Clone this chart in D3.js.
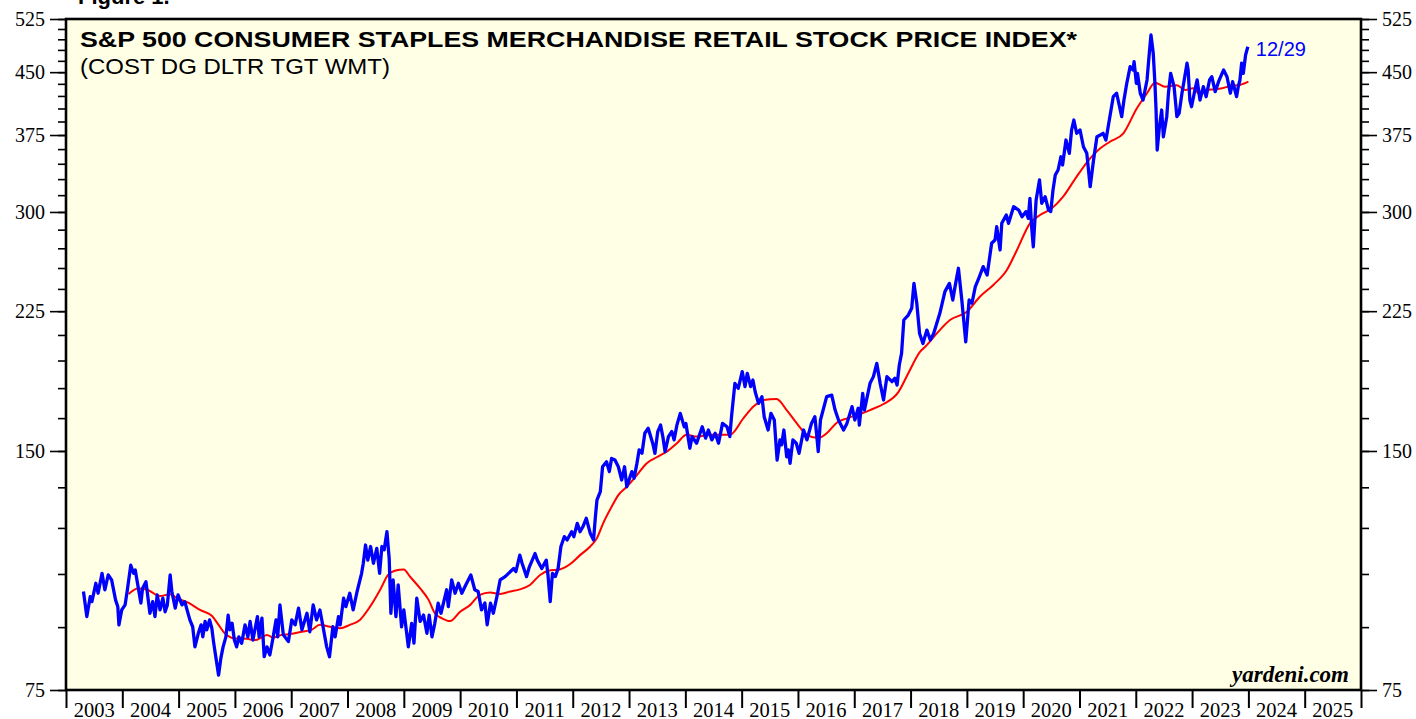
<!DOCTYPE html>
<html><head><meta charset="utf-8">
<script src="https://cdn.jsdelivr.net/npm/d3@7/dist/d3.min.js"></script>
<style>body{margin:0;background:#fff}svg{display:block}</style>
</head><body>
<svg id="chart" width="1416" height="719"></svg>
<script>
// ---- DATA (decimal year, index value) ----
const indexYears = [
2003.31,2003.37,2003.43,2003.46,2003.53,2003.57,2003.64,2003.69,2003.75,2003.81,
2003.88,2003.92,2003.94,2003.99,2004.05,2004.09,2004.15,2004.20,2004.23,2004.27,
2004.33,2004.36,2004.42,2004.49,2004.54,2004.58,2004.62,2004.67,2004.72,2004.76,
2004.80,2004.85,2004.88,2004.94,2004.99,2005.06,2005.11,2005.15,2005.20,2005.25,
2005.29,2005.35,2005.40,2005.43,2005.47,2005.50,2005.55,2005.59,2005.62,2005.66,
2005.71,2005.75,2005.79,2005.84,2005.88,2005.91,2005.95,2005.99,2006.03,2006.07,
2006.12,2006.18,2006.23,2006.27,2006.32,2006.36,2006.40,2006.43,2006.48,2006.52,
2006.57,2006.62,2006.67,2006.73,2006.76,2006.80,2006.86,2006.95,2007.01,2007.07,
2007.13,2007.19,2007.28,2007.33,2007.39,2007.45,2007.51,2007.57,2007.63,2007.68,
2007.74,2007.78,2007.84,2007.87,2007.93,2007.97,2008.04,2008.10,2008.17,2008.25,
2008.28,2008.32,2008.36,2008.41,2008.46,2008.52,2008.57,2008.61,2008.65,2008.70,
2008.74,2008.77,2008.81,2008.86,2008.90,2008.96,2009.00,2009.08,2009.14,2009.18,
2009.23,2009.29,2009.35,2009.41,2009.45,2009.50,2009.55,2009.61,2009.66,2009.71,
2009.76,2009.79,2009.85,2009.91,2009.97,2010.03,2010.10,2010.19,2010.26,2010.32,
2010.38,2010.44,2010.48,2010.54,2010.59,2010.66,2010.71,2010.80,2010.86,2010.95,
2010.99,2011.06,2011.10,2011.18,2011.23,2011.33,2011.37,2011.45,2011.53,2011.56,
2011.60,2011.64,2011.69,2011.74,2011.79,2011.85,2011.90,2011.98,2012.02,2012.08,
2012.13,2012.18,2012.24,2012.31,2012.37,2012.40,2012.43,2012.49,2012.53,2012.60,
2012.65,2012.69,2012.75,2012.81,2012.87,2012.92,2012.96,2013.05,2013.09,2013.14,
2013.18,2013.23,2013.28,2013.34,2013.42,2013.46,2013.51,2013.56,2013.60,2013.64,
2013.70,2013.76,2013.80,2013.85,2013.91,2013.98,2014.01,2014.08,2014.12,2014.20,
2014.30,2014.36,2014.41,2014.47,2014.53,2014.59,2014.66,2014.74,2014.79,2014.82,
2014.88,2014.94,2015.01,2015.06,2015.10,2015.16,2015.20,2015.24,2015.30,2015.36,
2015.40,2015.47,2015.52,2015.58,2015.63,2015.68,2015.71,2015.75,2015.80,2015.83,
2015.86,2015.91,2015.97,2016.02,2016.10,2016.16,2016.24,2016.30,2016.33,2016.36,
2016.40,2016.51,2016.60,2016.66,2016.72,2016.81,2016.87,2016.96,2017.01,2017.07,
2017.09,2017.15,2017.18,2017.28,2017.34,2017.40,2017.46,2017.52,2017.58,2017.67,
2017.72,2017.76,2017.80,2017.84,2017.88,2017.96,2018.02,2018.06,2018.11,2018.16,
2018.22,2018.29,2018.35,2018.41,2018.52,2018.61,2018.69,2018.75,2018.79,2018.85,
2018.91,2018.98,2019.04,2019.09,2019.15,2019.20,2019.29,2019.36,2019.44,2019.50,
2019.53,2019.59,2019.62,2019.70,2019.74,2019.83,2019.92,2019.98,2020.05,2020.09,
2020.12,2020.15,2020.18,2020.23,2020.29,2020.33,2020.39,2020.45,2020.49,2020.53,
2020.57,2020.62,2020.67,2020.70,2020.76,2020.82,2020.86,2020.90,2020.95,2021.01,
2021.07,2021.13,2021.19,2021.25,2021.31,2021.37,2021.42,2021.47,2021.53,2021.60,
2021.66,2021.75,2021.79,2021.84,2021.90,2021.95,2021.97,2022.01,2022.03,2022.08,
2022.13,2022.20,2022.24,2022.27,2022.31,2022.34,2022.36,2022.38,2022.42,2022.46,
2022.49,2022.55,2022.58,2022.62,2022.68,2022.73,2022.77,2022.82,2022.86,2022.91,
2022.93,2022.96,2022.99,2023.05,2023.09,2023.14,2023.20,2023.25,2023.31,2023.35,
2023.41,2023.47,2023.56,2023.62,2023.68,2023.72,2023.76,2023.79,2023.82,2023.85,
2023.88,2023.91,2023.95,2023.99
];
const indexValues = [
99.8,92.8,98.3,96.9,102.2,99.3,105.2,100.3,104.7,103.2,
97.4,95.5,90.6,94.6,96.0,100.3,107.7,105.2,106.2,102.2,
96.5,100.7,102.7,93.7,96.9,92.8,98.8,94.6,97.9,94.1,
96.0,104.7,99.8,95.1,98.8,96.0,96.9,94.6,91.9,90.1,
85.0,88.4,90.6,87.5,91.5,89.3,91.9,89.7,86.3,82.6,
78.3,82.2,85.0,87.5,93.2,89.3,91.0,86.7,85.0,87.5,
85.9,90.6,87.5,91.5,86.7,89.7,92.8,87.5,92.4,82.6,
85.0,83.0,86.7,91.9,87.5,96.0,88.0,86.3,91.9,90.6,
95.1,89.3,93.7,88.8,96.0,91.9,94.6,89.7,85.0,82.6,
90.1,87.5,92.8,90.6,97.9,95.5,99.3,94.6,99.8,105.2,
108.3,114.2,109.3,113.7,108.3,113.1,105.2,113.7,112.6,118.7,
109.8,93.7,103.2,92.8,101.7,90.1,94.6,85.0,91.0,85.9,
97.9,91.5,93.2,88.4,93.2,87.5,91.0,96.5,93.7,96.9,
100.3,95.5,103.2,99.3,102.2,99.3,101.7,104.7,100.3,99.8,
94.6,96.5,90.6,96.5,93.7,98.8,103.2,104.2,105.2,106.7,
105.7,110.9,108.3,104.2,107.2,111.4,109.3,106.7,109.3,104.7,
96.9,105.2,104.2,106.7,113.7,117.0,115.9,118.7,117.0,121.6,
118.7,120.4,123.4,118.2,115.9,123.4,130.1,133.3,143.3,145.4,
141.3,146.8,146.1,143.3,137.9,143.3,135.2,141.3,138.6,144.7,
150.5,149.0,157.9,160.2,153.4,149.0,158.7,161.7,156.4,149.7,
156.4,158.7,154.9,161.7,167.3,160.9,162.5,151.2,156.4,153.4,
160.9,155.7,159.4,154.9,157.9,153.4,162.5,160.9,156.4,165.7,
182.5,179.9,188.8,180.8,187.9,180.8,184.3,178.1,172.2,175.6,
165.7,159.4,167.3,164.1,146.1,154.9,152.7,159.4,147.5,150.5,
144.7,154.9,153.4,149.0,159.4,154.9,162.5,165.7,157.9,149.7,
164.1,175.6,176.4,168.9,164.1,159.4,162.5,170.6,164.1,169.8,
161.7,177.3,168.9,182.5,186.1,193.4,182.5,173.9,186.1,183.4,
185.2,181.6,192.5,199.1,219.3,222.5,226.9,243.9,230.4,210.9,
204.9,213.0,206.9,210.9,223.6,238.1,243.9,232.4,241.6,254.8,
232.4,205.9,232.4,230.2,241.6,246.3,256.0,249.9,274.0,276.6,
287.5,268.7,290.3,297.4,290.3,304.6,301.7,295.9,300.3,294.5,
312.1,287.5,271.2,310.6,329.2,307.6,313.6,301.7,300.3,319.8,
334.0,338.8,352.1,343.8,369.6,355.6,380.5,391.7,376.9,380.5,
362.5,355.6,322.8,348.8,373.1,375.0,376.9,369.6,391.7,419.1,
423.3,395.5,415.1,435.7,457.2,452.9,463.9,435.7,448.5,423.3,
415.1,439.9,475.4,501.2,475.4,435.7,403.2,359.0,384.2,403.2,
373.1,395.5,423.3,448.5,431.4,395.5,399.4,423.3,439.9,461.8,
452.9,415.1,407.1,427.3,439.9,415.1,431.4,419.1,439.9,444.1,
425.3,437.7,452.9,444.1,423.3,437.7,427.3,419.1,431.4,439.9,
461.8,448.5,473.0,484.4
];
// 52-week moving average
const maYears = [
2004.11,2004.28,2004.43,2004.67,2004.85,2004.97,2005.17,2005.38,2005.59,2005.71,
2005.82,2006.00,2006.21,2006.36,2006.48,2006.57,2006.68,2006.83,2006.98,2007.19,
2007.36,2007.51,2007.69,2007.87,2008.04,2008.22,2008.40,2008.58,2008.72,2008.84,
2009.00,2009.11,2009.29,2009.44,2009.55,2009.67,2009.82,2010.00,2010.18,2010.35,
2010.53,2010.71,2010.89,2011.06,2011.24,2011.42,2011.57,2011.77,2011.95,2012.13,
2012.31,2012.43,2012.54,2012.69,2012.81,2012.96,2013.14,2013.31,2013.49,2013.67,
2013.85,2014.02,2014.20,2014.44,2014.79,2015.03,2015.21,2015.39,2015.62,2015.80,
2015.98,2016.16,2016.36,2016.51,2016.69,2016.87,2017.10,2017.28,2017.52,2017.78,
2017.96,2018.17,2018.26,2018.49,2018.70,2019.00,2019.23,2019.47,2019.71,2019.89,
2020.12,2020.30,2020.51,2020.71,2020.95,2021.19,2021.37,2021.54,2021.78,2022.02,
2022.20,2022.34,2022.52,2022.73,2022.88,2023.02,2023.14,2023.26,2023.41,2023.53,2023.68,
2023.85,2024.00
];
const maValues = [
99.1,100.7,100.4,98.5,99.0,97.9,96.6,94.6,93.0,90.6,
88.4,87.1,87.0,86.7,87.4,88.0,87.3,88.0,88.2,88.8,
89.3,90.6,90.1,89.7,90.6,91.9,95.5,100.3,104.7,106.0,
106.4,104.2,100.7,97.4,93.7,92.4,91.6,94.1,96.0,98.8,
99.5,99.1,99.8,100.4,101.7,104.7,106.0,106.4,108.0,110.9,
113.7,116.5,121.6,127.6,132.0,135.2,139.9,144.7,147.3,149.7,
153.4,157.2,156.4,157.2,157.2,164.9,170.6,173.9,174.4,168.9,
162.5,157.2,155.7,157.9,162.8,164.9,167.0,168.9,171.9,177.8,
187.9,200.1,202.9,211.9,219.3,224.6,234.6,242.8,253.5,268.7,
290.3,297.4,303.2,313.6,332.4,350.5,360.8,367.8,376.9,405.2,
423.3,436.5,431.4,433.1,427.3,429.4,422.0,427.3,428.2,429.4,432.3,
433.6,437.7
];
const yearLabels = d3.range(2003, 2026);
const majorTicks = [75,150,225,300,375,450,525];
const minorTicks = d3.range(75, 526, 15);
const titleText = "S&P 500 CONSUMER STAPLES MERCHANDISE RETAIL STOCK PRICE INDEX*";
const subtitleText = "(COST DG DLTR TGT WMT)";
const lastLabel = "12/29";

// ---- LAYOUT ----
const svg = d3.select("#chart");
const L = 66, R = 1361, T = 19, B = 690;
const x = d3.scaleLinear().domain([2003, 2026]).range([L, R]);
const y = d3.scaleLog().domain([75, 525]).range([B, T]);
const serif = "'Liberation Serif','Times New Roman',serif";
const sans = "'Liberation Sans',Arial,Helvetica,sans-serif";

svg.append("rect").attr("x", L).attr("y", T).attr("width", R - L).attr("height", B - T)
  .attr("fill", "#FFFFE6");

svg.append("text").attr("x", 78).attr("y", 4).attr("font-family", sans)
  .attr("font-weight", "bold").attr("font-size", 22).text("Figure 1.");

// y axes
function yAxis(gen, tx, vals, size, labels) {
  const g = svg.append("g").attr("transform", `translate(${tx},0)`)
    .call(gen(y).tickValues(vals).tickSize(size).tickPadding(5)
      .tickFormat(labels ? d3.format("d") : ""));
  g.select(".domain").remove();
  g.selectAll("line").attr("stroke", "#000").attr("stroke-width", 1.6);
  g.selectAll("text").attr("font-family", serif).attr("font-size", 20).attr("fill", "#000");
}
yAxis(d3.axisLeft, L, minorTicks, 8, false);
yAxis(d3.axisLeft, L, majorTicks, 16, true);
yAxis(d3.axisRight, R, minorTicks, 8, false);
yAxis(d3.axisRight, R, majorTicks, 16, true);

// x axis
const gx = svg.append("g").attr("transform", `translate(0,${B})`)
  .call(d3.axisBottom(x).tickValues(d3.range(2003, 2027)).tickSize(18).tickFormat(""));
gx.select(".domain").remove();
gx.selectAll("line").attr("stroke", "#000").attr("stroke-width", 2);
svg.append("g").selectAll("text").data(yearLabels).join("text")
  .attr("x", d => x(d + 0.5)).attr("y", 717).attr("text-anchor", "middle")
  .attr("font-family", serif).attr("font-size", 20.5).text(d => d);

// lines
const blue = d3.zip(indexYears, indexValues);
const red = d3.zip(maYears, maValues);
svg.append("path").datum(red).attr("fill", "none").attr("stroke", "#FF0000")
  .attr("stroke-width", 2)
  .attr("d", d3.line().x(d => x(d[0])).y(d => y(d[1])).curve(d3.curveMonotoneX));
svg.append("path").datum(blue).attr("fill", "none").attr("stroke", "#0000FF")
  .attr("stroke-width", 3.3).attr("stroke-linejoin", "round")
  .attr("d", d3.line().x(d => x(d[0])).y(d => y(d[1])));

// border
svg.append("rect").attr("x", L).attr("y", T).attr("width", R - L).attr("height", B - T)
  .attr("fill", "none").attr("stroke", "#000").attr("stroke-width", 2.6);

// texts
svg.append("text").attr("x", 80).attr("y", 47).attr("font-family", sans)
  .attr("font-weight", "bold").attr("font-size", 22.5)
  .attr("textLength", 997).attr("lengthAdjust", "spacingAndGlyphs").text(titleText);
svg.append("text").attr("x", 80).attr("y", 74).attr("font-family", sans)
  .attr("font-size", 21.5)
  .attr("textLength", 310).attr("lengthAdjust", "spacingAndGlyphs").text(subtitleText);
const last = blue[blue.length - 1];
svg.append("text").attr("x", x(last[0]) + 8).attr("y", 56).attr("font-family", sans)
  .attr("font-size", 20).attr("fill", "#0000FF").text(lastLabel);
svg.append("text").attr("x", 1349).attr("y", 682).attr("text-anchor", "end")
  .attr("font-family", serif).attr("font-weight", "bold").attr("font-style", "italic")
  .attr("font-size", 23).text("yardeni.com");
</script>
</body></html>
